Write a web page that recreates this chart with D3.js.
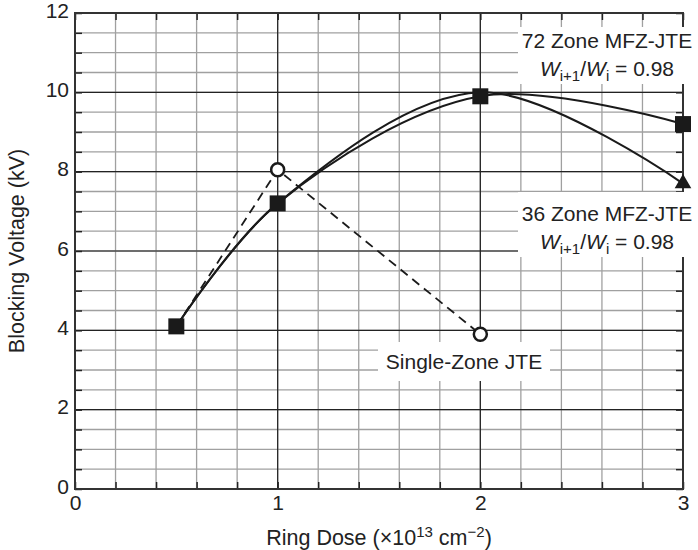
<!DOCTYPE html>
<html>
<head>
<meta charset="utf-8">
<script src="https://cdn.jsdelivr.net/npm/d3@7"></script>
<style>
  body { margin: 0; background: #fff; }
  text { font-family: "Liberation Sans", Arial, sans-serif; fill: #222; }
</style>
</head>
<body>
<div id="chart"></div>
<script>
var width = 698, height = 550;
var margin = {top: 13, right: 15, bottom: 61, left: 75};

// data
var dose72 = [0.5, 1, 2, 3],
    volt72 = [4.1, 7.2, 9.9, 9.2];
var dose36 = [0.5, 1, 2, 3],
    volt36 = [4.1, 7.2, 10.0, 7.7];
var doseSingle = [0.5, 1, 2],
    voltSingle = [4.1, 8.05, 3.9];
var xTicks = [0, 1, 2, 3],
    yTicks = [0, 2, 4, 6, 8, 10, 12];

var svg = d3.select("#chart").append("svg")
    .attr("width", width)
    .attr("height", height);

var x = d3.scaleLinear().domain([0, 3]).range([margin.left, width - margin.right]);
var y = d3.scaleLinear().domain([0, 12]).range([height - margin.bottom, margin.top]);

var x0 = x.range()[0], x1 = x.range()[1], y0 = y.range()[0], y1 = y.range()[1];

var minorX = d3.range(0, 3.001, 0.2),
    minorY = d3.range(0, 12.001, 0.5);

// minor grid
var grid = svg.append("g");
grid.selectAll(".mx").data(minorX).enter().append("line")
    .attr("x1", d => x(d)).attr("x2", d => x(d))
    .attr("y1", y0).attr("y2", y1)
    .attr("stroke", "#a0a0a0").attr("stroke-width", 1.3);
grid.selectAll(".my").data(minorY).enter().append("line")
    .attr("x1", x0).attr("x2", x1)
    .attr("y1", d => y(d)).attr("y2", d => y(d))
    .attr("stroke", "#a0a0a0").attr("stroke-width", 1.3);

// major grid
grid.selectAll(".Mx").data(xTicks).enter().append("line")
    .attr("x1", d => x(d)).attr("x2", d => x(d))
    .attr("y1", y0).attr("y2", y1)
    .attr("stroke", "#222").attr("stroke-width", 1.2);
grid.selectAll(".My").data(yTicks).enter().append("line")
    .attr("x1", x0).attr("x2", x1)
    .attr("y1", d => y(d)).attr("y2", d => y(d))
    .attr("stroke", "#222").attr("stroke-width", 1.2);

// inward ticks on all four sides
function noLabels(axis) { return axis.tickFormat("").tickSizeOuter(0); }
svg.append("g").attr("transform", "translate(0," + y0 + ")")
    .call(noLabels(d3.axisBottom(x).tickValues(minorX).tickSize(-7)));
svg.append("g").attr("transform", "translate(0," + y1 + ")")
    .call(noLabels(d3.axisTop(x).tickValues(minorX).tickSize(-7)));
svg.append("g").attr("transform", "translate(" + x0 + ",0)")
    .call(noLabels(d3.axisLeft(y).tickValues(minorY).tickSize(-7)));
svg.append("g").attr("transform", "translate(" + x1 + ",0)")
    .call(noLabels(d3.axisRight(y).tickValues(minorY).tickSize(-7)));
svg.selectAll(".tick line").attr("stroke", "#222").attr("stroke-width", 1.5);
svg.selectAll(".domain").remove();

// frame
svg.append("rect")
    .attr("x", x0).attr("y", y1)
    .attr("width", x1 - x0).attr("height", y0 - y1)
    .attr("fill", "none").attr("stroke", "#333").attr("stroke-width", 2);

// tick labels
var xAx = svg.append("g").attr("transform", "translate(0," + y0 + ")")
    .call(d3.axisBottom(x).tickValues(xTicks).tickSize(0).tickPadding(6).tickFormat(d3.format("d")));
var yAx = svg.append("g").attr("transform", "translate(" + x0 + ",0)")
    .call(d3.axisLeft(y).tickValues(yTicks).tickSize(0).tickPadding(6).tickFormat(d3.format("d")));
xAx.select(".domain").remove();
yAx.select(".domain").remove();
svg.selectAll(".tick text").style("font-size", "21px").attr("fill", "#222")
    .style("font-family", "'Liberation Sans', Arial, sans-serif");
yAx.selectAll(".tick text").attr("dy", "0.2em");

// axis titles
svg.append("text")
    .attr("transform", "translate(24," + ((y0 + y1) / 2) + ") rotate(-90)")
    .attr("text-anchor", "middle")
    .style("font-size", "21.5px")
    .text("Blocking Voltage (kV)");

var xt = svg.append("text")
    .attr("x", (x0 + x1) / 2).attr("y", 545)
    .attr("text-anchor", "middle")
    .style("font-size", "21.5px");
xt.append("tspan").text("Ring Dose (\u00d710");
xt.append("tspan").attr("dy", -8).style("font-size", "15px").text("13");
xt.append("tspan").attr("dy", 8).text(" cm");
xt.append("tspan").attr("dy", -8).style("font-size", "15px").text("\u22122");
xt.append("tspan").attr("dy", 8).text(")");

// label boxes (white, cover grid)
function box(xa, ya, w, h) {
  svg.append("rect").attr("x", xa).attr("y", ya).attr("width", w).attr("height", h).attr("fill", "#fff");
}
box(518, 27, 180, 57);
box(518, 192, 180, 65);
box(378, 342, 172, 39);

var labelCx = 607;

function wLabel(yb) {
  var t = svg.append("text").attr("x", labelCx).attr("y", yb)
      .attr("text-anchor", "middle").style("font-size", "21px");
  t.append("tspan").style("font-style", "italic").text("W");
  t.append("tspan").attr("dy", 5).style("font-size", "15px").text("i+1");
  t.append("tspan").attr("dy", -5).text("/");
  t.append("tspan").style("font-style", "italic").text("W");
  t.append("tspan").attr("dy", 5).style("font-size", "15px").text("i");
  t.append("tspan").attr("dy", -5).text(" = 0.98");
}

svg.append("text").attr("x", labelCx).attr("y", 48).attr("text-anchor", "middle")
    .style("font-size", "21px").text("72 Zone MFZ-JTE");
wLabel(76);
svg.append("text").attr("x", labelCx).attr("y", 221).attr("text-anchor", "middle")
    .style("font-size", "21px").text("36 Zone MFZ-JTE");
wLabel(249);
svg.append("text").attr("x", 464).attr("y", 369).attr("text-anchor", "middle")
    .style("font-size", "21px").text("Single-Zone JTE");

// curves
var smooth = d3.line().x(d => x(d[0])).y(d => y(d[1])).curve(d3.curveCatmullRom.alpha(0.5));
var straight = d3.line().x(d => x(d[0])).y(d => y(d[1]));

var s72 = d3.zip(dose72, volt72),
    s36 = d3.zip(dose36, volt36),
    sSingle = d3.zip(doseSingle, voltSingle);

svg.append("path").datum(sSingle).attr("d", straight)
    .attr("fill", "none").attr("stroke", "#1a1a1a").attr("stroke-width", 1.8)
    .attr("stroke-dasharray", "9,6");
svg.append("path").datum(s36).attr("d", smooth)
    .attr("fill", "none").attr("stroke", "#1a1a1a").attr("stroke-width", 2);
svg.append("path").datum(s72).attr("d", smooth)
    .attr("fill", "none").attr("stroke", "#1a1a1a").attr("stroke-width", 2);

// markers
svg.selectAll(".tri").data(s36.slice(-1)).enter().append("path")
    .attr("transform", d => "translate(" + x(d[0]) + "," + y(d[1]) + ")")
    .attr("d", d3.symbol(d3.symbolTriangle, 120))
    .attr("fill", "#1a1a1a");
svg.selectAll(".circ").data(sSingle.slice(1)).enter().append("circle")
    .attr("cx", d => x(d[0])).attr("cy", d => y(d[1])).attr("r", 6.5)
    .attr("fill", "#fff").attr("stroke", "#1a1a1a").attr("stroke-width", 2.5);
svg.selectAll(".sq").data(s72).enter().append("rect")
    .attr("x", d => x(d[0]) - 8).attr("y", d => y(d[1]) - 8)
    .attr("width", 16).attr("height", 16)
    .attr("fill", "#1a1a1a");
</script>
</body>
</html>
